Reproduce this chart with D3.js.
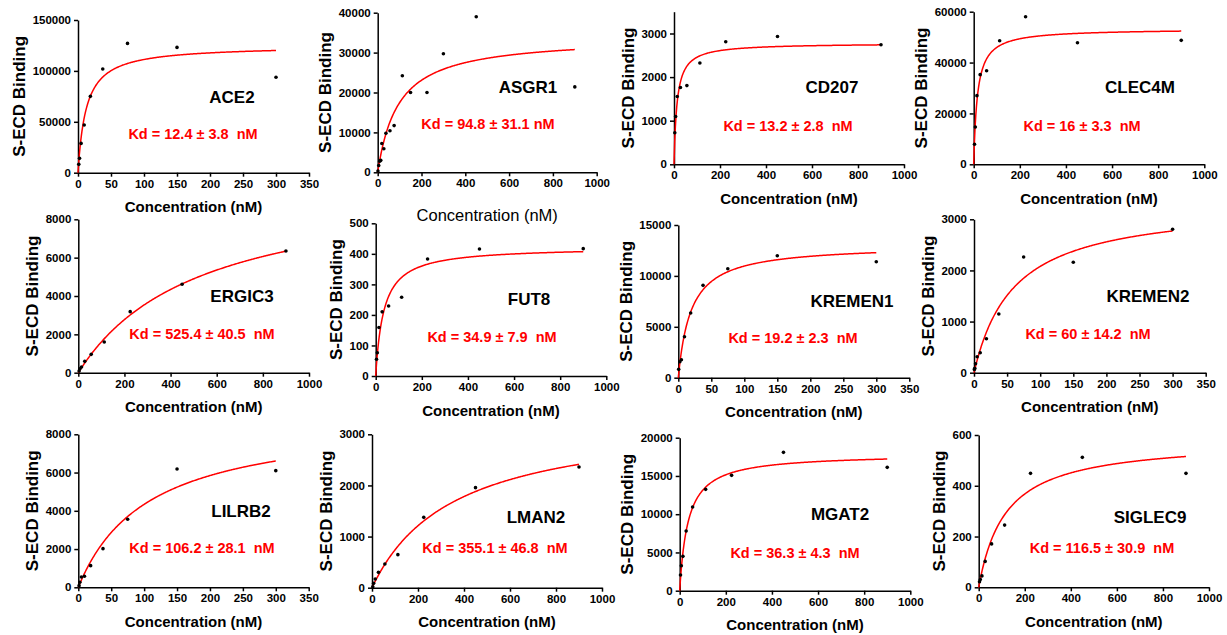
<!DOCTYPE html>
<html><head><meta charset="utf-8">
<script src="https://cdn.jsdelivr.net/npm/d3@7"></script>
<style>
body{margin:0;background:#fff;}
svg{display:block;font-family:"Liberation Sans",Arial,sans-serif;}
</style></head><body>
<svg id="c" width="1227" height="635"></svg>
<script>
// ---------- data ----------
const genes = ["ACE2","ASGR1","CD207","CLEC4M","ERGIC3","FUT8","KREMEN1","KREMEN2","LILRB2","LMAN2","MGAT2","SIGLEC9"];
const kdValues = [12.4, 94.8, 13.2, 16, 525.4, 34.9, 19.2, 60, 106.2, 355.1, 36.3, 116.5];
const kdErrors = [3.8, 31.1, 2.8, 3.3, 40.5, 7.9, 2.3, 14.2, 28.1, 46.8, 4.3, 30.9];
const kdUnits = ["  nM"," nM","  nM","  nM","  nM","  nM","  nM","  nM","  nM","  nM","  nM","  nM"];
const bmaxValues = [125000, 34000, 2780, 53300, 10040, 423, 13070, 3326, 8944, 3365, 17905, 582];
const xMaxValues = [350, 1000, 1000, 1000, 1000, 1000, 350, 350, 350, 1000, 1000, 1000];
const xTickSteps = [50, 200, 200, 200, 200, 200, 50, 50, 50, 200, 200, 200];
const yMaxValues = [150000, 40000, 3500, 60000, 8000, 500, 15000, 3000, 8000, 3000, 20000, 600];
const yTickSteps = [50000, 10000, 1000, 20000, 2000, 100, 5000, 1000, 2000, 1000, 5000, 200];

const ace2Conc = [1.17, 2.34, 4.69, 9.375, 18.75, 37.5, 75, 150, 300];
const ace2Bind = [8200, 14100, 28800, 46800, 75000, 101900, 127000, 123100, 93700];
const asgr1Conc = [1.2, 4.7, 9.4, 14, 18.75, 28, 37.5, 56, 75, 112.5, 150, 225, 300, 450, 900];
const asgr1Bind = [300, 1700, 2800, 3000, 7200, 5900, 9800, 10400, 11700, 24200, 20000, 20000, 29700, 39000, 21400];
const cd207Conc = [3.5, 7, 14, 28, 56, 112.5, 225, 450, 900];
const cd207Bind = [724, 1097, 1554, 1760, 1805, 2323, 2810, 2932, 2742];
const clec4mConc = [3.5, 7, 14, 28, 56, 112.5, 225, 450, 900];
const clec4mBind = [7860, 14670, 26990, 35240, 36810, 48600, 58030, 47820, 48730];
const ergic3Conc = [3.5, 7, 14, 28, 56, 112.5, 225, 450, 900];
const ergic3Bind = [87, 209, 296, 591, 957, 1600, 3183, 4609, 6348];
const fut8Conc = [3.5, 7, 14, 28, 56, 112.5, 225, 450, 900];
const fut8Bind = [55, 76, 159, 210, 229, 258, 383, 416, 417];
const kremen1Conc = [0.59, 2.34, 4.69, 9.375, 18.75, 37.5, 75, 150, 300];
const kremen1Bind = [819, 1572, 1768, 4028, 6353, 9070, 10707, 11984, 11395];
const kremen2Conc = [0.59, 1.17, 2.34, 4.69, 9.375, 18.75, 37.5, 75, 150, 300];
const kremen2Bind = [65, 85, 176, 313, 391, 665, 1148, 2263, 2159, 2805];
const lilrb2Conc = [1.17, 2.34, 4.69, 9.375, 18.75, 37.5, 75, 150, 300];
const lilrb2Bind = [87, 261, 540, 575, 1133, 2022, 3556, 6188, 6100];
const lman2Conc = [3.5, 7, 14, 28, 56, 112.5, 225, 450, 900];
const lman2Bind = [20, 85, 170, 300, 463, 646, 1376, 1957, 2361];
const mgat2Conc = [3.5, 7, 14, 28, 56, 112.5, 225, 450, 900];
const mgat2Bind = [2048, 3268, 4488, 7800, 10937, 13246, 15076, 18083, 16122];
const siglec9Conc = [3.5, 7, 14, 28, 56, 112.5, 225, 450, 900];
const siglec9Bind = [22, 31, 45, 102, 171, 245, 449, 512, 449];

const concSets = [ace2Conc, asgr1Conc, cd207Conc, clec4mConc, ergic3Conc, fut8Conc, kremen1Conc, kremen2Conc, lilrb2Conc, lman2Conc, mgat2Conc, siglec9Conc];
const bindSets = [ace2Bind, asgr1Bind, cd207Bind, clec4mBind, ergic3Bind, fut8Bind, kremen1Bind, kremen2Bind, lilrb2Bind, lman2Bind, mgat2Bind, siglec9Bind];

// ---------- layout (pixels) ----------
// [xLeft, xRight, yTop, yBottom, geneCx, geneCy, kdCx, kdCy]
const layout = [
 [78, 309, 20, 172.7, 232, 97, 193, 134],
 [377.7, 596.7, 12.7, 172.3, 528, 87, 488, 124],
 [674, 904, 11.7, 164.3, 832, 87, 788, 126],
 [973.7, 1204.3, 11.7, 164.3, 1140, 87, 1082, 126],
 [78.3, 309, 219.3, 372.7, 242, 296, 202, 334],
 [375.7, 606.3, 223.3, 376, 529, 299, 492, 337],
 [678.3, 909.3, 225, 377.7, 852, 301, 793, 338],
 [974, 1205.7, 219.3, 372.7, 1148, 296, 1088, 334],
 [78.3, 308.7, 434.3, 587.3, 241, 511, 202, 548],
 [372, 602, 434.3, 587.7, 536, 517, 495, 548],
 [679.7, 910.3, 437.7, 590.7, 840, 514, 795, 553],
 [978.7, 1209, 435, 587.3, 1150, 517, 1102, 548]
];

const svg = d3.select("#c");
const fmt = d3.format("d");

genes.forEach((gene, i) => {
  const [L, R, T, B, gx, gy, kx, ky] = layout[i];
  const g = svg.append("g");
  const x = d3.scaleLinear().domain([0, xMaxValues[i]]).range([L, R]);
  const y = d3.scaleLinear().domain([0, yMaxValues[i]]).range([B, T]);
  const xt = d3.range(0, xMaxValues[i] + 1e-9, xTickSteps[i]);
  const yt = d3.range(0, yMaxValues[i] + 1e-9, yTickSteps[i]);

  const xa = g.append("g").attr("transform", `translate(0,${B})`)
    .call(d3.axisBottom(x).tickValues(xt).tickFormat(fmt).tickSize(4).tickSizeOuter(0).tickPadding(3));
  const ya = g.append("g").attr("transform", `translate(${L},0)`)
    .call(d3.axisLeft(y).tickValues(yt).tickFormat(fmt).tickSize(4).tickSizeOuter(0).tickPadding(3));
  [xa, ya].forEach(a => {
    a.attr("font-size", null).attr("font-family", null);
    a.select(".domain").attr("stroke", "#000").attr("stroke-width", 1.5);
    a.selectAll(".tick line").attr("stroke", "#000").attr("stroke-width", 1.5);
    a.selectAll(".tick text").attr("fill", "#000").style("font-weight", "bold").style("font-size", "11.5px");
  });

  // fitted one-site binding curve
  const cmax = d3.max(concSets[i]);
  const samples = d3.range(0, 301).map(k => k * cmax / 300);
  const line = d3.line().x(d => x(d)).y(d => y(bmaxValues[i] * d / (kdValues[i] + d)));
  g.append("path").attr("d", line(samples)).attr("fill", "none").attr("stroke", "#ff0000").attr("stroke-width", 1.5);

  // data points
  g.selectAll("circle.pt").data(concSets[i].map((c, k) => [c, bindSets[i][k]])).enter()
    .append("circle").attr("cx", d => x(d[0])).attr("cy", d => y(d[1])).attr("r", 1.8).attr("fill", "#000");

  // gene label
  g.append("text").attr("x", gx).attr("y", gy).attr("text-anchor", "middle").attr("dominant-baseline", "central")
    .style("font-weight", "bold").style("font-size", "17px").attr("fill", "#000").text(gene);
  // Kd label
  g.append("text").attr("x", kx).attr("y", ky).attr("text-anchor", "middle").attr("dominant-baseline", "central")
    .style("font-weight", "bold").style("font-size", "14.5px").style("white-space", "pre").attr("fill", "#ff0000")
    .text(`Kd = ${kdValues[i]} \u00B1 ${kdErrors[i]}${kdUnits[i]}`);

  // x title
  if (i === 1) {
    g.append("text").attr("x", (L + R) / 2).attr("y", B + 42.7).attr("text-anchor", "middle").attr("dominant-baseline", "central")
      .style("font-size", "16.5px").attr("fill", "#000").text("Concentration (nM)");
  } else {
    g.append("text").attr("x", (L + R) / 2).attr("y", B + 34).attr("text-anchor", "middle").attr("dominant-baseline", "central")
      .style("font-weight", "bold").style("font-size", "15px").attr("fill", "#000").text("Concentration (nM)");
  }
  // y title
  const bb = ya.node().getBBox();
  const tx = L + bb.x - 13;
  const tyc = (T + B) / 2;
  g.append("text").attr("transform", `translate(${tx},${tyc}) rotate(-90)`).attr("text-anchor", "middle").attr("dominant-baseline", "central")
    .style("font-weight", "bold").style("font-size", "17px").attr("fill", "#000").text("S-ECD Binding");
});
</script>
</body></html>
